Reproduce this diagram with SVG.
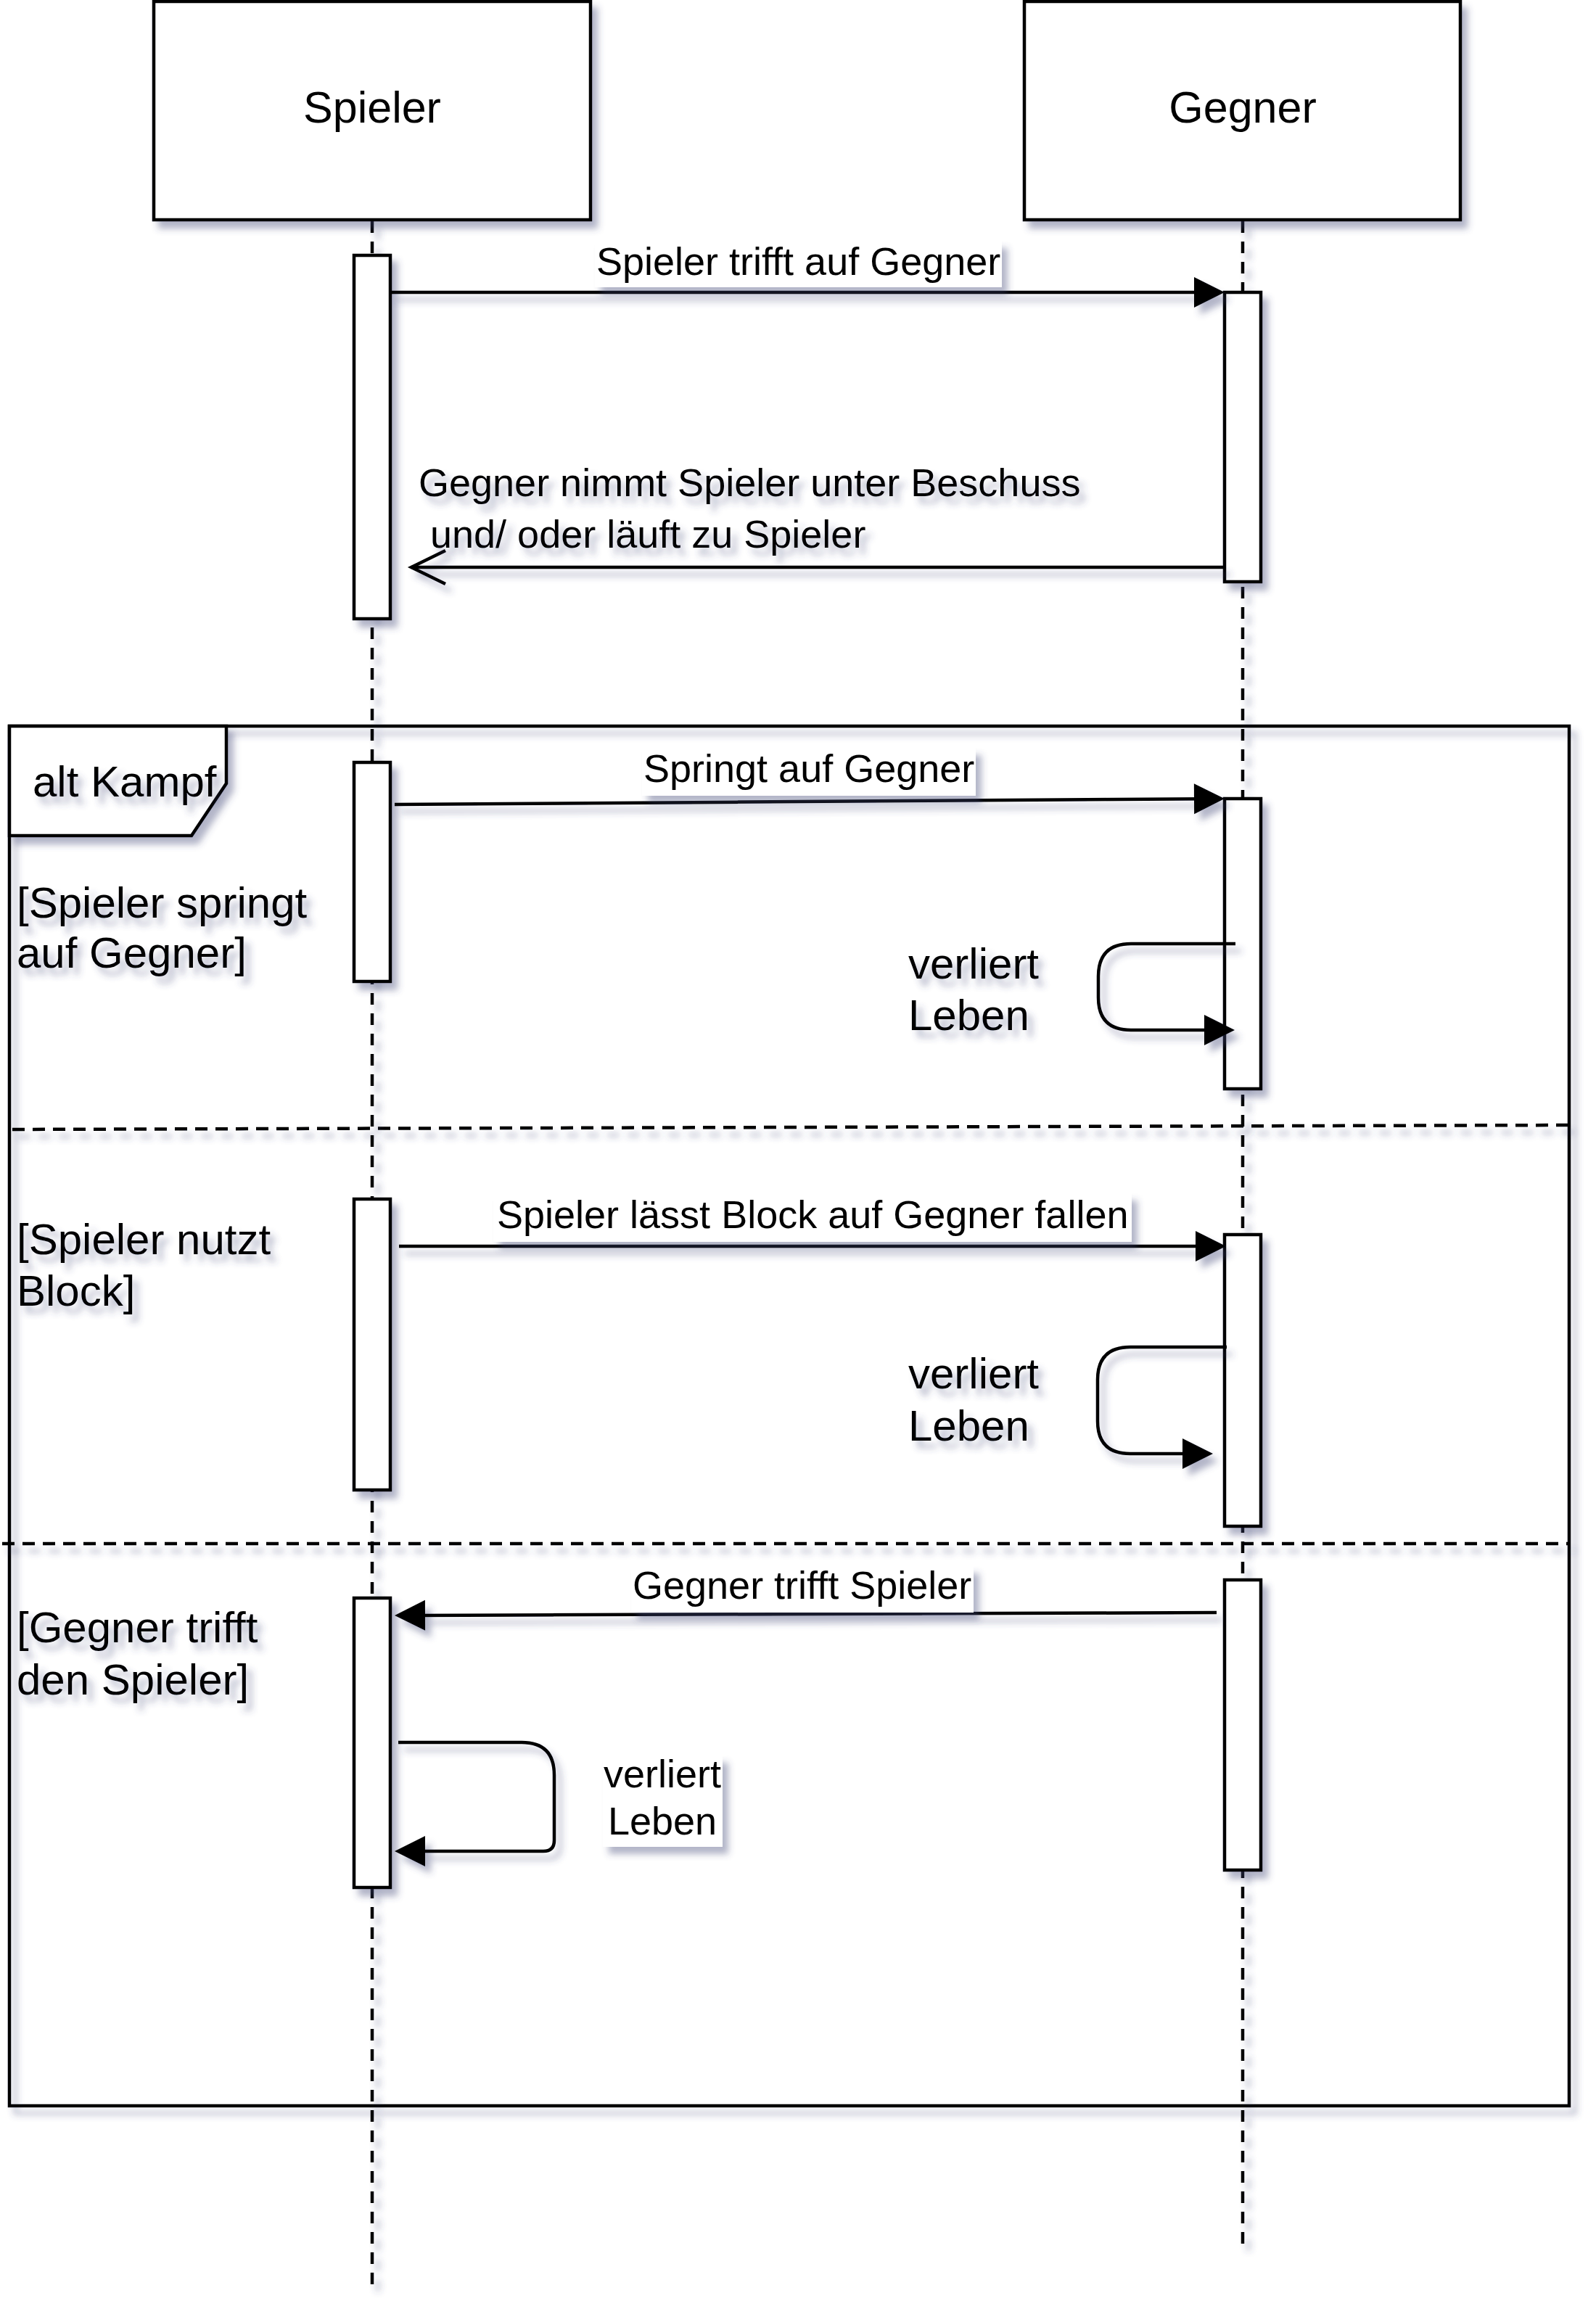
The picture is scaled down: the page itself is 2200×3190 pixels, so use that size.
<svg xmlns="http://www.w3.org/2000/svg" width="2200" height="3190" viewBox="0 0 2200 3190">
  <style>
    .box { fill: #ffffff; stroke: #000000; stroke-width: 4.5; }
    .frame { fill: none; stroke: #000000; stroke-width: 4.5; }
    .life { fill: none; stroke: #000000; stroke-width: 4.5; stroke-dasharray: 16 12; }
    .sep { fill: none; stroke: #000000; stroke-width: 4.5; stroke-dasharray: 17 11; }
    .msg { fill: none; stroke: #000000; stroke-width: 4.5; }
    .sync { marker-end: url(#arrowFilled); }
    .reply { marker-end: url(#arrowOpen); }
    .lblbg { fill: #ffffff; stroke: none; }
    .shadow { filter: url(#shadow); }
    text { font-family: "Liberation Sans", Arial, Helvetica, sans-serif; fill: #000000; }
    .name { font-size: 61px; text-anchor: middle; }
    .lbl { font-size: 54px; }
    .guard { font-size: 60px; }
  </style>
  <defs>
    <filter id="shadow" filterUnits="userSpaceOnUse" x="-50" y="-50" width="2300" height="3300">
      <feDropShadow dx="8" dy="10" stdDeviation="5" flood-color="#3D4574" flood-opacity="0.4"/>
    </filter>
    <marker id="arrowFilled" markerUnits="userSpaceOnUse" markerWidth="44" markerHeight="44" refX="12" refY="21" orient="auto" overflow="visible">
      <path d="M0,0 L42,21 L0,42 Z" fill="#000000" stroke="none"/>
    </marker>
    <marker id="arrowOpen" markerUnits="userSpaceOnUse" markerWidth="50" markerHeight="50" refX="47" refY="23" orient="auto" overflow="visible">
      <path d="M0,0 L47,23 L0,46" fill="none" stroke="#000000" stroke-width="4.5"/>
    </marker>
  </defs>

  <rect width="2200" height="3190" fill="#ffffff"/>

  <!-- combined fragment: alt Kampf -->
  <g id="frame-alt">
    <rect class="frame shadow" x="13" y="1001" width="2150" height="1902"/>
    <path class="box shadow" d="M13,1001 H312 V1080 L264,1152 H13 Z"/>
    <text class="guard shadow" x="45" y="1098">alt Kampf</text>
    <line class="sep shadow" x1="17" y1="1557" x2="2163" y2="1551"/>
    <line class="sep shadow" x1="3" y1="2128" x2="2163" y2="2128"/>
    <text class="guard shadow" x="23" y="1265">[Spieler springt</text>
    <text class="guard shadow" x="23" y="1334">auf Gegner]</text>
    <text class="guard shadow" x="23" y="1729">[Spieler nutzt</text>
    <text class="guard shadow" x="23" y="1800">Block]</text>
    <text class="guard shadow" x="23" y="2264">[Gegner trifft</text>
    <text class="guard shadow" x="23" y="2336">den Spieler]</text>
  </g>

  <!-- lifeline Spieler -->
  <g id="lifeline-spieler">
    <line class="life shadow" x1="513" y1="305" x2="513" y2="3153"/>
    <rect class="box shadow" x="212" y="2" width="602" height="301"/>
    <text class="name" x="513" y="169">Spieler</text>
  </g>

  <!-- lifeline Gegner -->
  <g id="lifeline-gegner">
    <line class="life shadow" x1="1713" y1="305" x2="1713" y2="3101"/>
    <rect class="box shadow" x="1412" y="2" width="601" height="301"/>
    <text class="name" x="1713" y="169">Gegner</text>
  </g>

  <!-- activation bars -->
  <g id="act-spieler-1"><rect class="box shadow" x="488" y="352" width="50" height="501"/></g>
  <g id="act-gegner-1"><rect class="box shadow" x="1688" y="403" width="50" height="399"/></g>
  <g id="act-spieler-2"><rect class="box shadow" x="488" y="1051" width="50" height="302"/></g>
  <g id="act-gegner-2"><rect class="box shadow" x="1688" y="1101" width="50" height="400"/></g>
  <g id="act-spieler-3"><rect class="box shadow" x="488" y="1653" width="50" height="401"/></g>
  <g id="act-gegner-3"><rect class="box shadow" x="1688" y="1702" width="50" height="402"/></g>
  <g id="act-spieler-4"><rect class="box shadow" x="488" y="2203" width="50" height="399"/></g>
  <g id="act-gegner-4"><rect class="box shadow" x="1688" y="2178" width="50" height="400"/></g>

  <!-- messages -->
  <g id="connectors">
    <path class="msg sync shadow" d="M538,403 H1658"/>
    <path class="msg reply shadow" d="M1688,782 H567"/>
    <path class="msg sync shadow" d="M544,1109 L1658,1101.2"/>
    <path class="msg sync shadow" d="M1703,1301 H1559 Q1514,1301 1514,1346 V1375 Q1514,1420 1559,1420 H1672"/>
    <path class="msg sync shadow" d="M550,1718 H1660"/>
    <path class="msg sync shadow" d="M1691,1857 H1558 Q1513,1857 1513,1902 V1959 Q1513,2004 1558,2004 H1642"/>
    <path class="msg sync shadow" d="M1677,2223 L574,2226.9"/>
    <path class="msg sync shadow" d="M549,2402 H719 Q764,2402 764,2447 V2537 Q764,2552 749,2552 H574"/>
  </g>

  <!-- message labels -->
  <g id="labels">
    <rect class="lblbg shadow" x="820" y="332" width="561" height="64"/>
    <text class="lbl" x="822" y="379">Spieler trifft auf Gegner</text>

    <text class="lbl shadow" x="577" y="684">Gegner nimmt Spieler unter Beschuss</text>
    <text class="lbl shadow" x="593" y="755">und/ oder läuft zu Spieler</text>

    <rect class="lblbg shadow" x="885" y="1031" width="460" height="66"/>
    <text class="lbl" x="887" y="1078">Springt auf Gegner</text>

    <text class="guard shadow" x="1252" y="1349">verliert</text>
    <text class="guard shadow" x="1252" y="1420">Leben</text>

    <rect class="lblbg shadow" x="680" y="1645" width="880" height="67"/>
    <text class="lbl" x="685" y="1693">Spieler lässt Block auf Gegner fallen</text>

    <text class="guard shadow" x="1252" y="1914">verliert</text>
    <text class="guard shadow" x="1252" y="1986">Leben</text>

    <rect class="lblbg shadow" x="870" y="2159" width="472" height="64"/>
    <text class="lbl" x="872" y="2204">Gegner trifft Spieler</text>

    <rect class="lblbg shadow" x="831" y="2420" width="165" height="126"/>
    <text class="lbl" x="913" y="2464" text-anchor="middle">verliert</text>
    <text class="lbl" x="913" y="2529" text-anchor="middle">Leben</text>
  </g>
</svg>
